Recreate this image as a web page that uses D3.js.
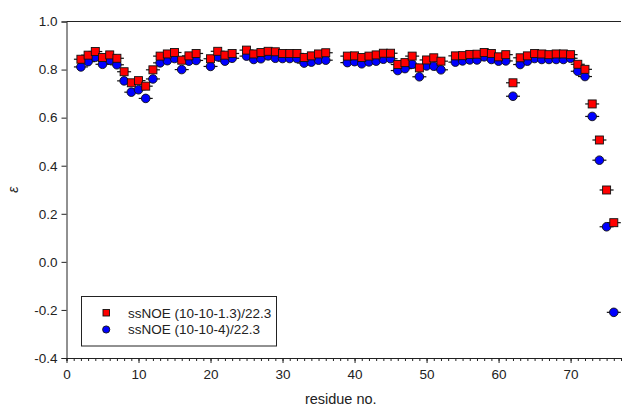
<!DOCTYPE html>
<html>
<head>
<meta charset="utf-8">
<script src="https://cdn.jsdelivr.net/npm/d3@7/dist/d3.min.js"></script>
<style>
  html, body { margin: 0; padding: 0; background: #fff; }
  svg { display: block; font-family: "Liberation Sans", Arial, sans-serif; }
</style>
</head>
<body>
<svg id="chart" width="625" height="411"></svg>
<script>
// Residue numbers with measured order parameters
const residues = [2,3,4,5,6,7,8,9,10,11,12,13,14,15,16,17,18,
  20,21,22,23,25,26,27,28,29,30,31,32,33,34,35,36,
  39,40,41,42,43,44,45,46,47,48,49,50,51,52,
  54,55,56,57,58,59,60,61,62,63,64,65,66,67,68,69,70,71,72,73,74,75,76];

// ssNOE (10-10-1.3)/22.3
const seriesA = [0.843,0.860,0.875,0.850,0.861,0.847,0.791,0.745,0.754,0.731,0.799,0.856,0.865,0.871,0.839,0.857,0.867,
  0.845,0.876,0.860,0.867,0.881,0.865,0.871,0.876,0.874,0.867,0.867,0.867,0.850,0.857,0.865,0.870,
  0.856,0.857,0.850,0.856,0.861,0.868,0.868,0.821,0.829,0.856,0.807,0.840,0.849,0.835,
  0.857,0.858,0.863,0.864,0.871,0.867,0.853,0.862,0.745,0.849,0.857,0.867,0.865,0.862,0.865,0.865,0.862,0.822,0.801,0.657,0.507,0.299,0.163];

// ssNOE (10-10-4)/22.3
const seriesB = [0.811,0.833,0.851,0.822,0.839,0.820,0.753,0.706,0.716,0.680,0.761,0.828,0.837,0.846,0.800,0.835,0.838,
  0.813,0.853,0.835,0.847,0.856,0.842,0.845,0.857,0.847,0.846,0.846,0.846,0.827,0.831,0.839,0.839,
  0.829,0.833,0.824,0.832,0.835,0.843,0.845,0.796,0.804,0.822,0.770,0.815,0.814,0.799,
  0.831,0.836,0.840,0.840,0.853,0.842,0.835,0.836,0.689,0.821,0.835,0.846,0.842,0.842,0.842,0.842,0.847,0.793,0.771,0.605,0.423,0.146,-0.210];

const seriesNames = ["ssNOE (10-10-1.3)/22.3", "ssNOE (10-10-4)/22.3"];
const xTicks = [0,10,20,30,40,50,60,70];
const yTicks = [-0.4,-0.2,0.0,0.2,0.4,0.6,0.8,1.0];

const svg = d3.select("#chart");
const plotL = 66.5, plotR = 621, plotT = 21.5, plotB = 358;

const x = d3.scaleLinear().domain([0, 77]).range([plotL, plotR]);
const y = d3.scaleLinear().domain([-0.4, 1.0]).range([plotB, plotT]);

// top frame line
svg.append("line")
  .attr("x1", plotL).attr("x2", plotR).attr("y1", plotT).attr("y2", plotT)
  .attr("stroke", "#222").attr("stroke-width", 1);

// y axis (plain hyphen for negative labels)
const yFmt = v => d3.format(".1f")(v).replace("\u2212", "-");
const yAxis = svg.append("g")
  .attr("transform", `translate(${plotL},0)`)
  .call(d3.axisLeft(y).tickValues(yTicks).tickFormat(yFmt).tickSize(5).tickPadding(4));
yAxis.selectAll("text").attr("font-size", 13.5).attr("fill", "#222")
  .style("font-family", "'Liberation Sans', Arial, sans-serif");
yAxis.selectAll("line, path").attr("stroke", "#222");

// x axis: minor ticks every residue, major every 10
const xMinor = svg.append("g")
  .attr("transform", `translate(0,${plotB})`)
  .call(d3.axisBottom(x).tickValues(d3.range(0, 78, 1)).tickFormat("").tickSize(3));
xMinor.selectAll("line, path").attr("stroke", "#222");
const xAxis = svg.append("g")
  .attr("transform", `translate(0,${plotB})`)
  .call(d3.axisBottom(x).tickValues(xTicks).tickFormat(d3.format("d")).tickSize(5).tickPadding(6));
xAxis.select("path").remove();
xAxis.selectAll("line").attr("stroke", "#222");
xAxis.selectAll("text").attr("font-size", 13.5).attr("fill", "#222")
  .style("font-family", "'Liberation Sans', Arial, sans-serif");

// axis titles
svg.append("text")
  .attr("x", (plotL + plotR) / 2 - 3).attr("y", 404)
  .attr("text-anchor", "middle").attr("font-size", 14.5).attr("fill", "#222")
  .text("residue no.");
svg.append("text")
  .attr("transform", `translate(18,${(plotT + plotB) / 2}) rotate(-90)`)
  .attr("text-anchor", "middle").attr("font-size", 14).attr("font-style", "italic")
  .attr("fill", "#222")
  .text("ε");

const dataA = residues.map((r, i) => ({ r, v: seriesA[i] }));
const dataB = residues.map((r, i) => ({ r, v: seriesB[i] }));

// error-bar caps (horizontal whiskers) behind the markers
function whiskers(data) {
  svg.append("g").selectAll("line").data(data).join("line")
    .attr("x1", d => x(d.r) - 7).attr("x2", d => x(d.r) + 7)
    .attr("y1", d => y(d.v)).attr("y2", d => y(d.v))
    .attr("stroke", "#111").attr("stroke-width", 1.2);
}
whiskers(dataB);
whiskers(dataA);

// blue circles
svg.append("g").selectAll("circle").data(dataB).join("circle")
  .attr("cx", d => x(d.r)).attr("cy", d => y(d.v)).attr("r", 4.3)
  .attr("fill", "#0000ff").attr("stroke", "#111").attr("stroke-width", 0.9);

// red squares
svg.append("g").selectAll("rect").data(dataA).join("rect")
  .attr("x", d => x(d.r) - 4).attr("y", d => y(d.v) - 4)
  .attr("width", 8).attr("height", 8)
  .attr("fill", "#ff0000").attr("stroke", "#111").attr("stroke-width", 0.9);

// legend
const lg = svg.append("g");
lg.append("rect")
  .attr("x", 81.5).attr("y", 296.5).attr("width", 195).attr("height", 49.5)
  .attr("fill", "#fff").attr("stroke", "#222").attr("stroke-width", 1);
lg.append("rect")
  .attr("x", 103).attr("y", 309.5).attr("width", 6.5).attr("height", 6.5)
  .attr("fill", "#ff0000").attr("stroke", "#111").attr("stroke-width", 0.9);
lg.append("circle")
  .attr("cx", 106.2).attr("cy", 329.5).attr("r", 3.6)
  .attr("fill", "#0000ff").attr("stroke", "#111").attr("stroke-width", 0.9);
lg.selectAll("text.lab").data(seriesNames).join("text")
  .attr("class", "lab")
  .attr("x", 128).attr("y", (d, i) => 317.5 + i * 16.5)
  .attr("font-size", 13.5).attr("fill", "#222")
  .text(d => d);
</script>
</body>
</html>
